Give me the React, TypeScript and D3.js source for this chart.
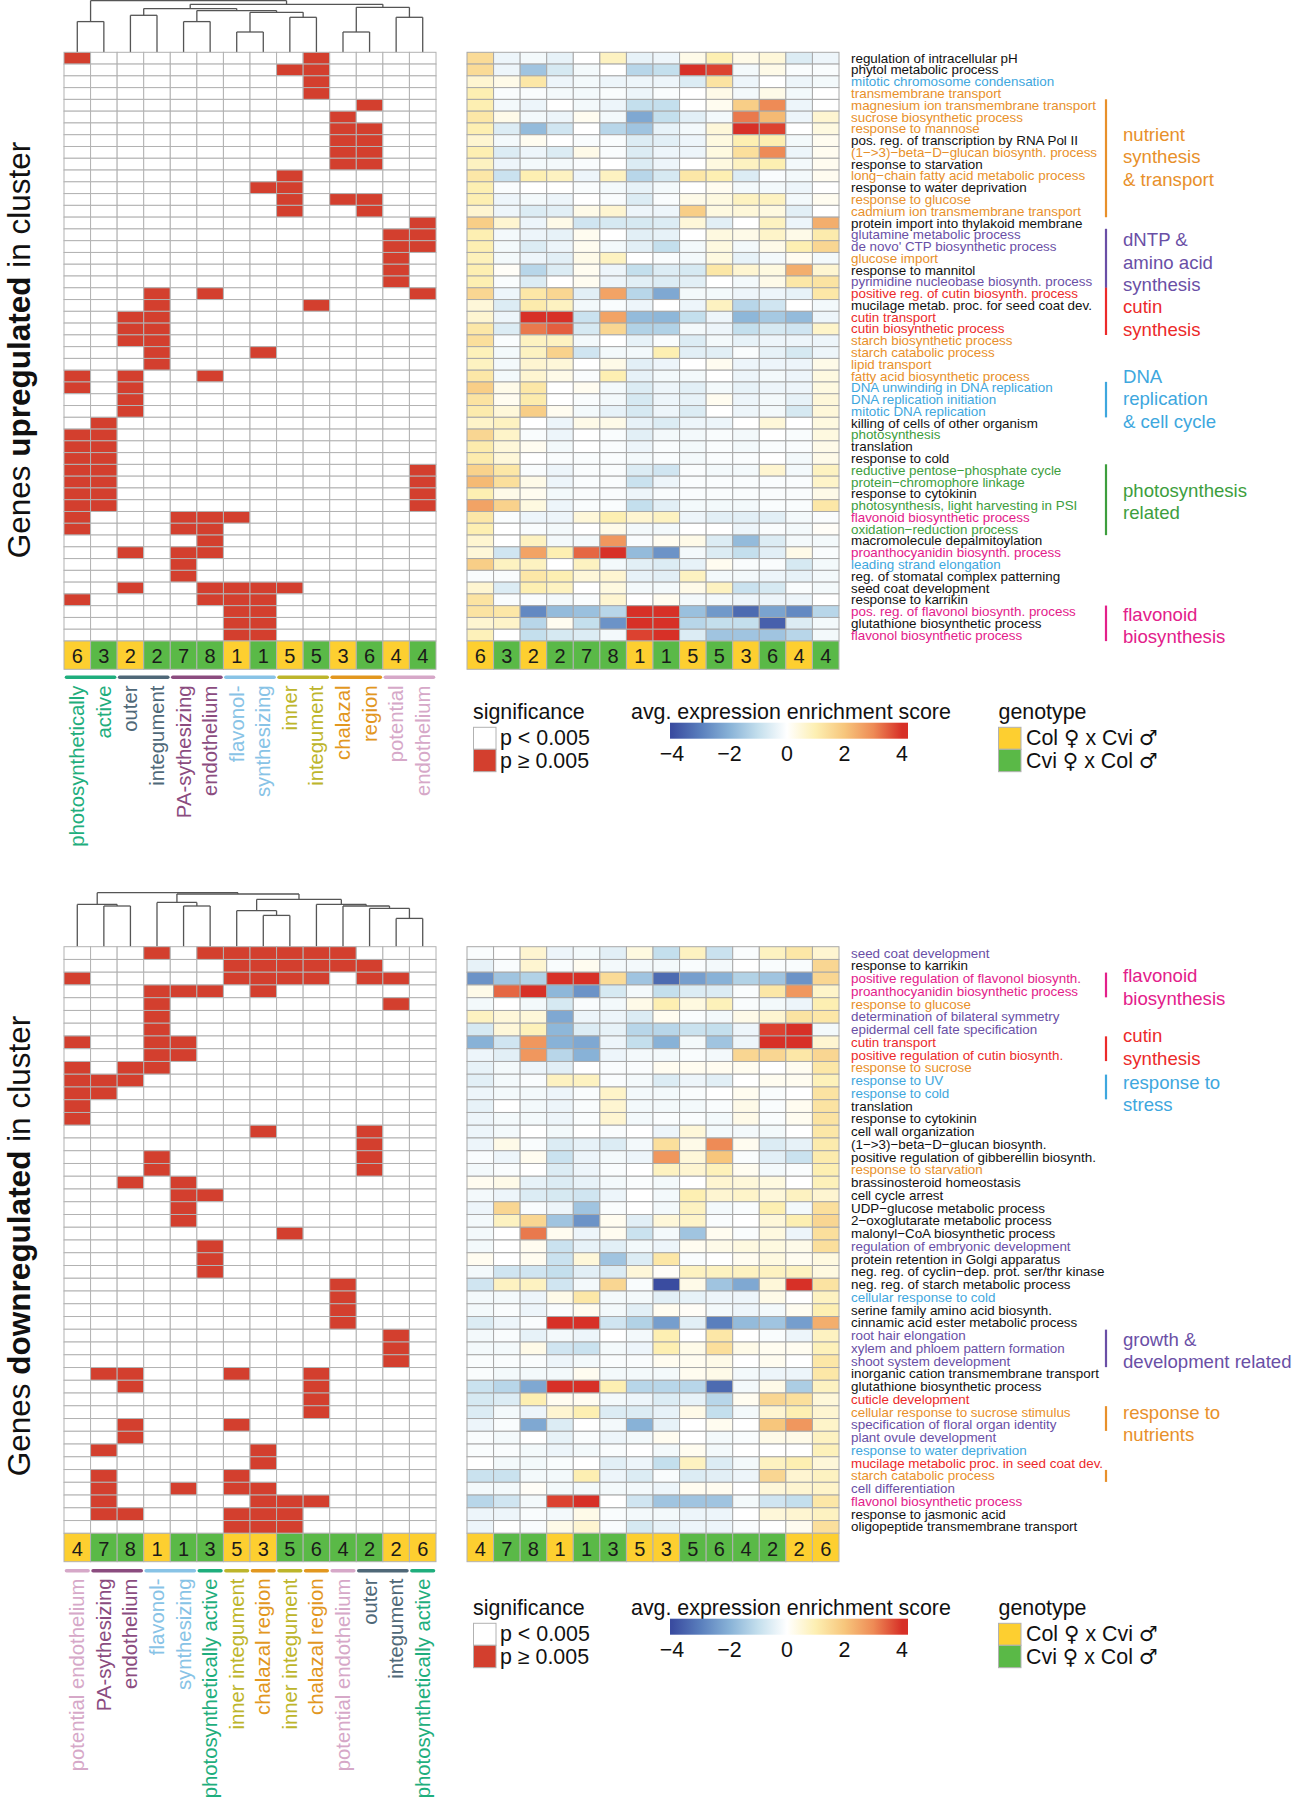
import React from "react";
import * as d3 from "d3";

const FONT = "'Liberation Sans', Arial, Helvetica, sans-serif";

// ---------------- DATA ----------------
const topTerms = [
  "regulation of intracellular pH", "phytol metabolic process", "mitotic chromosome condensation",
  "transmembrane transport", "magnesium ion transmembrane transport", "sucrose biosynthetic process",
  "response to mannose", "pos. reg. of transcription by RNA Pol II", "(1−>3)−beta−D−glucan biosynth. process",
  "response to starvation", "long−chain fatty acid metabolic process", "response to water deprivation",
  "response to glucose", "cadmium ion transmembrane transport", "protein import into thylakoid membrane",
  "glutamine metabolic process", "de novo' CTP biosynthetic process", "glucose import", "response to mannitol",
  "pyrimidine nucleobase biosynth. process", "positive reg. of cutin biosynth. process",
  "mucilage metab. proc. for seed coat dev.", "cutin transport", "cutin biosynthetic process",
  "starch biosynthetic process", "starch catabolic process", "lipid transport", "fatty acid biosynthetic process",
  "DNA unwinding in DNA replication", "DNA replication initiation", "mitotic DNA replication",
  "killing of cells of other organism", "photosynthesis", "translation", "response to cold",
  "reductive pentose−phosphate cycle", "protein−chromophore linkage", "response to cytokinin",
  "photosynthesis, light harvesting in PSI", "flavonoid biosynthetic process", "oxidation−reduction process",
  "macromolecule depalmitoylation", "proanthocyanidin biosynth. process", "leading strand elongation",
  "reg. of stomatal complex patterning", "seed coat development", "response to karrikin",
  "pos. reg. of flavonol biosynth. process", "glutathione biosynthetic process", "flavonol biosynthetic process",
];
const topTermColorKeys = "kkbooookokokookppokprkrroooobbbkgkkggkgmgkmbkkkmkm".split("");

const bottomTerms = [
  "seed coat development", "response to karrikin", "positive regulation of flavonol biosynth.",
  "proanthocyanidin biosynthetic process", "response to glucose", "determination of bilateral symmetry",
  "epidermal cell fate specification", "cutin transport", "positive regulation of cutin biosynth.",
  "response to sucrose", "response to UV", "response to cold", "translation", "response to cytokinin",
  "cell wall organization", "(1−>3)−beta−D−glucan biosynth.", "positive regulation of gibberellin biosynth.",
  "response to starvation", "brassinosteroid homeostasis", "cell cycle arrest", "UDP−glucose metabolic process",
  "2−oxoglutarate metabolic process", "malonyl−CoA biosynthetic process", "regulation of embryonic development",
  "protein retention in Golgi apparatus", "neg. reg. of cyclin−dep. prot. ser/thr kinase",
  "neg. reg. of starch metabolic process", "cellular response to cold", "serine family amino acid biosynth.",
  "cinnamic acid ester metabolic process", "root hair elongation", "xylem and phloem pattern formation",
  "shoot system development", "inorganic cation transmembrane transport", "glutathione biosynthetic process",
  "cuticle development", "cellular response to sucrose stimulus", "specification of floral organ identity",
  "plant ovule development", "response to water deprivation", "mucilage metabolic proc. in seed coat dev.",
  "starch catabolic process", "cell differentiation", "flavonol biosynthetic process",
  "response to jasmonic acid", "oligopeptide transmembrane transport",
];
const bottomTermColorKeys = "pkmmopprrobbkkkkkokkkkkpkkkbkkpppkkroppbropmkk".split("");

const topClusters = [6, 3, 2, 2, 7, 8, 1, 1, 5, 5, 3, 6, 4, 4];
const topGenotype = ["C", "V", "C", "V", "V", "V", "C", "V", "C", "V", "C", "V", "C", "V"];
const bottomClusters = [4, 7, 8, 1, 1, 3, 5, 3, 5, 6, 4, 2, 2, 6];
const bottomGenotype = ["C", "V", "V", "C", "V", "V", "C", "C", "V", "V", "V", "V", "C", "C"];

const topSig = [
  "10000000010000", "00000000110000", "00000000010000", "00000000010000", "00000000000100",
  "00000000001000", "00000000001100", "00000000001100", "00000000001100", "00000000001100",
  "00000000100000", "00000001100000", "00000000101100", "00000000100100", "00000000000001",
  "00000000000011", "00000000000011", "00000000000010", "00000000000010", "00000000000010",
  "00010100000001", "00010000010000", "00110000000000", "00110000000000", "00110000000000",
  "00010001000000", "00010000000000", "10100100000000", "10100000000000", "00100000000000",
  "00100000000000", "01000000000000", "11000000000000", "11000000000000", "11000000000000",
  "11000000000001", "11000000000001", "11000000000001", "11000000000001", "10001110000000",
  "10001100000000", "00000100000000", "00101100000000", "00001000000000", "00001000000000",
  "00100111100000", "10000111000000", "00000011000000", "00000011000000", "00000011000000",
];

const bottomSig = [
  "00010111111000", "00000011111100", "10000011110110", "00011101000000", "00010000000010",
  "00010000000000", "00010000000000", "10011000000000", "00011000000000", "10110000000000",
  "11100000000000", "11000000000000", "10000000000000", "10000000000000", "00000001000100",
  "00000000000100", "00010000000100", "00010000000100", "00101000000000", "00001100000000",
  "00001000000000", "00001000000000", "00000000100000", "00000100000000", "00000100000000",
  "00000100000000", "00000000001000", "00000000001000", "00000000001000", "00000000001000",
  "00000000000010", "00000000000010", "00000000000010", "01100010010000", "00100000010000",
  "00000000010000", "00000000010000", "00100010000000", "00100000000000", "01000001000000",
  "00000001000000", "01000010000000", "01001011000000", "01000001110000", "01100011100000",
  "00000011100000",
];

const topExpr = [
  [1.5, -0.3, -0.2, -0.4, 0, 0.8, -0.4, -0.3, 0.3, 1.0, 0.3, 0.5, -0.6, -0.3],
  [1.5, -0.3, -1.6, -0.7, -0.2, 0, -1.2, -1.0, 4, 3.8, -0.2, 0.3, -0.1, -0.1],
  [0.6, 0.3, 1.2, -0.3, -0.2, -0.3, -0.3, -0.3, -0.6, 1.3, -0.3, 0, -0.3, -0.2],
  [1.0, -0.1, -0.1, -0.2, -0.2, -0.1, -0.3, -0.1, 0, 0.3, -0.2, 0.3, -0.2, 0],
  [1.0, -0.2, -0.3, 0, -0.2, -0.3, -1.0, -1.0, 0, 0.2, 1.8, 3.0, -0.3, 0],
  [1.2, 0.3, -0.2, -0.3, 0.2, -0.2, -2.2, -1.0, -0.5, -0.2, 3.2, 2.2, -0.3, 0.6],
  [1.0, -0.6, -1.8, -0.8, 0, -1.2, -1.6, -0.4, -0.2, 0.5, 4, 3.8, 0, 0.4],
  [0.6, -0.2, 0.2, 0, -0.1, -0.1, -0.6, -0.5, -0.3, 0.4, 1.0, 1.0, -0.2, 0.2],
  [1.0, -0.6, -0.3, -0.6, 0.3, -0.1, -0.6, -0.3, -0.3, 0.4, 1.4, 3.0, -0.3, 0.2],
  [0.8, -0.3, -0.2, -0.2, -0.1, 0, -0.6, -0.3, 0, 0.4, 0.8, 1.0, -0.2, 0.2],
  [1.2, -0.9, 1.0, 0.8, -0.3, 0.8, -1.2, -0.7, 1.2, 1.0, -0.6, -0.1, -0.2, 0.2],
  [1.0, -0.1, 0, 0, -0.1, -0.2, -0.4, -0.2, 0, 0.2, -0.2, -0.2, -0.3, 0],
  [1.0, -0.3, -0.2, -0.3, 0, -0.1, -0.6, -0.1, 0.3, 0.4, 0.8, 0.8, -0.2, 0.2],
  [0.6, -0.3, -0.6, -0.5, 0.3, 0.6, -0.3, -0.3, 1.8, 0.4, 0.5, 0.4, -0.5, 0],
  [1.8, 0.6, -0.3, 0.3, -0.8, -0.7, -0.7, -0.6, 0.5, -0.5, 0, 0.8, -0.3, 2.4],
  [1.0, -0.2, -0.3, -0.4, 0.2, 0, -0.5, -0.4, 0, 0.4, 0.3, 0.7, 0.3, 1.1],
  [1.0, -0.2, -0.6, -0.3, 0.2, -0.2, -0.5, -1.0, -0.2, 0.4, -0.2, 0.3, 1.0, 1.6],
  [0.9, -0.2, -0.3, -0.5, 0.3, 0.8, 0, -0.1, -0.2, 0.4, -0.4, -0.2, 0.2, -0.2],
  [1.0, 0.1, -1.2, -0.6, 0.2, -0.3, -1.0, -0.6, -0.7, 1.2, 0.6, 0.4, 2.4, 0.6],
  [1.0, -0.1, -0.6, 0, 0.2, -0.3, -0.5, -0.6, -0.5, 0, -0.2, 0.3, 1.2, 1.3],
  [1.6, -0.3, 1.2, 1.6, -0.5, 2.6, -1.2, -2.2, -0.2, -0.2, -0.3, -0.3, -0.4, 1.2],
  [0.5, -0.6, 1.1, 0.8, -0.2, -0.1, -0.3, 0, -0.3, 0.8, -1.2, -0.8, 0, -0.2],
  [0.6, -0.3, 4, 4, -0.9, 2.6, -1.8, -1.9, -1.0, -0.3, -1.9, -1.5, -1.8, -0.3],
  [1.2, -0.6, 3.2, 3.5, -0.7, 1.6, -1.3, -1.3, -0.2, -0.3, -1.0, -0.7, -0.8, 0.7],
  [1.4, -0.1, 0.8, 0.8, -0.2, 0, -0.4, -0.1, -0.6, -0.2, -0.4, -0.3, -0.3, -0.3],
  [0.9, -0.2, 0.8, 1.7, -0.8, -0.2, -0.2, 1.0, -0.5, -0.5, -0.1, -0.4, -0.7, -0.3],
  [0.8, -0.2, 0.6, 0.5, 0, 0.3, -0.5, -0.3, 0, 0.2, -0.3, -0.3, -0.3, 0.3],
  [1.2, -0.2, 0.6, 0.3, -0.1, 1.0, -0.4, -0.2, -0.2, 0, -0.3, -0.2, -0.3, 0.4],
  [1.8, 0.3, 1.2, 0, 0.2, -0.2, -0.6, -0.3, -0.5, -0.2, -0.4, -0.3, -0.3, 0.4],
  [1.3, 0.2, 1.1, 0, -0.1, -0.2, -0.7, -0.3, -0.4, 0.2, -0.3, -0.2, -0.4, 0.5],
  [1.1, 0.5, 1.8, 0.2, -0.2, -0.4, -0.7, -0.3, -0.6, 0, -0.3, -0.2, -0.7, 0.5],
  [0.7, 0.8, 0, -0.3, 0.3, 0.3, -0.4, -0.6, -0.3, -0.3, 0, 0.5, 0, 0.4],
  [1.6, 0.7, -0.1, -0.3, 0, -0.1, -0.5, -0.2, -0.2, -0.1, -0.2, 0, -0.1, 0.4],
  [1.1, 0.5, 0.2, -0.2, 0, -0.1, -0.3, -0.1, -0.2, -0.1, -0.2, -0.1, -0.1, 0.3],
  [1.1, 0.5, 0, -0.1, -0.1, -0.1, -0.2, -0.1, -0.2, -0.1, -0.1, 0, -0.2, 0.3],
  [1.7, 1.2, -0.1, -0.3, -0.1, -0.1, -0.6, -0.8, -0.1, -0.2, -0.2, 0.6, -0.2, 0.8],
  [2.2, 1.4, 0.3, -0.3, -0.1, -0.1, -0.9, -0.3, -0.1, -0.1, -0.1, -0.1, -0.1, 0.7],
  [1.0, 0.3, 0.2, -0.2, -0.1, -0.1, -0.3, -0.1, -0.1, -0.1, -0.1, -0.1, -0.1, 0.3],
  [2.6, 1.7, 0.4, -0.3, -0.1, -0.1, -1.0, -0.5, -0.2, -0.2, -0.2, -0.1, -0.1, 1.2],
  [1.2, -0.1, -0.3, -0.3, 0.5, 1.0, 0.6, 0.8, -0.3, -0.5, -0.5, -0.5, -0.2, -0.1],
  [1.0, 0, -0.1, -0.2, 0, 0.3, -0.2, -0.2, 0, 0, -0.3, -0.1, -0.2, 0.1],
  [0.6, 0, 0.8, -0.2, -0.2, 2.8, -0.1, 0.2, 0.3, -0.6, -1.8, -0.6, -0.2, -0.2],
  [0.5, -0.8, 2.6, 1.0, 3.4, 4, -1.8, -2.6, -0.2, -0.6, -1.0, -0.5, 0.3, -0.1],
  [1.8, 0.8, 0.8, 0, 0.8, -0.2, -0.5, -0.6, -0.4, 0.2, -0.1, -0.1, -0.7, -0.2],
  [-0.1, -0.1, 1.2, 1.0, 0.5, 0.6, -0.4, -0.5, 0.8, -0.2, -0.2, -0.3, -0.4, -0.2],
  [0.6, -0.6, 1.0, 0.8, 0, 0.4, -0.2, -0.2, 0.3, 0.8, -0.9, -0.7, -0.1, -0.2],
  [1.3, -0.1, -0.1, -0.2, -0.1, 0.6, 0, 0.2, -0.2, -0.2, -0.3, -0.3, -0.3, 0],
  [1.3, 1.2, -2.8, -1.8, -1.7, -1.2, 4, 4, -1.7, -2.5, -3.4, -2.3, -2.8, -1.2],
  [0.6, 0.7, -1.2, 0.2, -1.0, -2.6, 4, 4, -1.2, -1.0, -1.0, -3.6, -0.6, -0.2],
  [0.9, 0, -1.0, -0.7, -0.6, -0.2, 3.8, 4, -0.6, -1.6, -1.6, -1.6, -1.2, -0.2],
];

const bottomExpr = [
  [-0.1, 0, 0.6, -0.3, -0.2, -0.5, 0.4, -1.0, 0.8, -0.9, -0.1, 0.8, 1.2, 0.6],
  [-0.4, -0.1, 0.6, -0.1, 0.2, -0.2, -0.2, -0.2, -0.1, -0.2, 0, -0.1, -0.1, 1.6],
  [-2.6, -1.6, -1.3, 4, 4, 1.5, -1.6, -3.4, -2.4, -2.0, -1.3, -1.6, -2.6, 1.6],
  [0.3, 3.4, 4, -1.9, -2.6, -0.7, -0.2, -1.0, -0.6, -0.6, -0.1, 1.2, 2.8, 0.7],
  [-0.2, 0, -0.2, -0.7, -0.1, -0.2, 0.3, 1.0, 0.4, 0.9, -0.1, -0.2, -0.3, 1.0],
  [0.8, 0.5, 0.5, -2.2, -0.3, -0.3, -0.6, 0.2, -0.1, -0.2, 0.3, 0.6, 1.3, 1.2],
  [-0.7, 0.5, 0.9, -1.9, -0.6, -0.4, -1.2, -1.2, -0.9, -1.0, -0.3, 3.8, 4, -0.2],
  [-2.0, -0.8, 2.8, -2.0, -2.2, -0.3, -1.0, -2.0, -0.2, -1.6, -0.3, 4, 4, 0.6],
  [-0.3, -0.5, 2.8, -1.2, -2.0, -0.3, -0.2, -0.2, -0.1, -0.2, 1.6, 1.6, 1.2, 1.6],
  [-0.4, -0.2, -0.3, -0.5, 0, -0.1, -0.1, 0.2, 0.2, 0.2, 0.2, 0, 0.2, 1.2],
  [-0.5, -0.2, -0.1, 0.8, 0.8, -0.1, -0.2, -0.6, -0.3, -0.5, 0, 0.2, 0.2, 0.9],
  [-0.3, -0.2, -0.2, -0.3, -0.1, 0.7, -0.2, -0.2, -0.1, 0, 0.2, -0.1, 0, 1.3],
  [-0.4, 0, -0.2, -0.3, -0.1, 0.6, -0.2, -0.2, -0.2, -0.1, 0.3, -0.1, 0.2, 1.3],
  [-0.3, -0.2, -0.2, -0.3, -0.1, 0.6, -0.2, -0.1, -0.1, -0.2, 0.3, -0.1, 0.2, 1.3],
  [-0.3, -0.2, 0, -0.2, 0, -0.1, 0, -0.3, 0.5, -0.2, -0.2, -0.2, 0, 1.2],
  [-0.3, 0.3, -0.1, -0.6, -0.4, -0.6, -0.2, 1.4, 0.3, 3.0, 0.2, -0.6, -0.4, 1.1],
  [-0.1, -0.3, 0.2, -0.9, -0.3, -0.2, -0.3, 2.8, 0.5, 2.0, -0.1, -0.5, -0.9, 1.1],
  [-0.2, -0.1, 0, -0.6, -0.3, -0.1, 0, 0.8, 0.6, 0.9, 0.2, -0.2, -0.1, 1.0],
  [0.2, 0.3, -0.4, -0.6, -0.4, -0.2, -0.1, -0.2, 0, 0.6, 0.5, 0.4, 0, 0.9],
  [-0.2, -0.3, -0.6, -0.7, -0.8, -0.3, 0, -0.2, 1.0, 0.6, 0.7, 0.5, 0.8, 0.6],
  [-0.3, 1.6, -0.1, -0.3, -1.6, -0.1, 0, -0.2, 0.8, -0.2, -0.1, 1.0, -0.2, 1.4],
  [-0.2, 0.8, 1.6, -1.6, -2.6, 0.2, -0.5, 0.5, 0.7, -0.1, 0, 0.5, 1.0, 1.6],
  [-0.2, 0, 3.2, 0.2, -0.3, 0.2, -0.9, -0.2, -1.6, 0.2, -0.1, 0.4, -0.3, 1.4],
  [-0.2, 0, 0.2, -0.9, -0.4, -0.5, -0.2, -0.3, 0.2, 0.3, 0.4, 0.4, 0.3, 1.4],
  [0.2, 0, 0.2, -0.9, 0.5, -1.6, -0.6, 1.2, -0.1, 0, 0.2, 0.4, 0.2, 0.4],
  [-0.2, -0.8, -0.8, -1.0, -0.5, -0.6, 0.5, 0.1, 0.8, 0.8, 0.8, 0.8, 0.8, 0.4],
  [-0.8, 0.8, 0.8, -0.8, -0.2, 1.6, -0.1, -4, 0.3, -1.6, -2.2, 0.5, 4, 1.3],
  [-0.2, -0.2, -0.3, 0.3, 1.2, -0.2, -0.2, -0.5, -0.4, -0.3, -0.3, 0.3, 0, 0.8],
  [-0.2, -0.1, -0.3, -0.1, 0.2, -0.2, -0.5, 0.2, 0.1, -0.2, -0.3, -0.2, 0.2, 1.0],
  [-0.6, -0.3, -0.1, 4, 4, -0.8, -1.3, -2.4, -0.5, -3.0, -1.8, -1.6, -2.4, 2.4],
  [-0.2, -0.1, -0.4, -0.2, -0.3, 0, -0.2, 1.0, 0, 1.2, 0, -0.1, -0.3, 0.8],
  [-0.2, -0.2, 0.3, -0.8, -0.9, -0.2, -0.3, 1.0, 0.3, 1.4, 0.3, 0.2, 0.2, 0.9],
  [-0.1, -0.1, -0.1, -0.3, -0.2, -0.1, -0.1, 0.2, 0.2, 0.3, 0, 0.2, 0, 1.2],
  [-0.1, -0.2, -0.2, -0.2, 0.2, -0.2, -0.2, -0.2, 0.2, 0.3, -0.2, -0.3, -0.3, 1.2],
  [-0.9, -1.2, -2.2, 4, 4, 1.0, -1.2, -1.2, -1.2, -3.4, -0.2, 0.3, -1.4, 0.8],
  [-0.7, -0.6, 1.0, 0.2, 0.2, -0.2, -0.3, -0.6, -0.4, -1.2, 0.2, 1.6, 1.4, 0.5],
  [-0.6, -0.2, -0.3, 0.6, 1.0, -0.6, -0.6, -0.4, 0.3, -1.0, -0.2, 0.6, 1.0, 0.6],
  [-0.3, -0.1, -2.2, -0.6, 0, -0.2, -2.0, -0.4, 0, 0.2, 0, 2.0, 2.8, 0.7],
  [-0.1, -0.2, 0, -0.4, -0.1, -0.3, -0.2, 0.2, 0, -0.2, -0.1, 0.3, 0.3, 0.8],
  [-0.1, -0.1, -0.2, -0.3, -0.2, -0.1, 0, -0.2, 0.2, -0.2, 0, 0, 0, 0.9],
  [0, -0.2, -0.2, -0.1, 0, -0.5, -0.3, -1.0, 0.8, -0.6, -0.2, 0.8, 1.0, 0.5],
  [-0.9, -0.9, -0.2, -0.2, 1.0, -0.3, -0.6, -0.1, -0.6, -0.5, -0.3, 1.6, 0.6, 0.8],
  [-0.2, -0.2, 0.1, -0.2, -0.2, -0.2, -0.2, -0.3, 0.2, 0.2, 0, 0.5, 0.6, 0.7],
  [-1.2, -0.8, -0.2, 3.8, 4, 0, -0.8, -1.6, -1.6, -1.6, -0.2, -0.8, -1.0, 1.2],
  [-0.3, -0.3, -0.1, -0.2, 0.3, -0.1, -0.2, -0.2, -0.3, -0.3, 0, 0.5, 0.6, 0.8],
  [-0.3, 0, -0.1, 0.3, 0.6, -0.1, -0.7, -0.4, -0.3, -0.3, -0.1, 0, 0.2, 1.4],
];

type Tree = number | [Tree, Tree, number];
const topTree: Tree = [
  [0, 1, 30.7],
  [
    [[2, 3, 37], [[4, 5, 30.7], [[6, 7, 20.3], [8, 9, 35], 40], 41.7], 43.7],
    [[10, 11, 20.3], [12, 13, 35], 45],
    48,
  ],
  51.7,
];
const bottomTree: Tree = [
  [0, [1, 2, 40.7], 42.3],
  [
    [3, [4, 5, 40.7], 44.3],
    [[6, [7, 8, 31.3], 36], [9, [10, [11, [12, 13, 28.3], 38.3], 40.7], 42.3], 47.3],
    52.7,
  ],
  54,
];

const topClusterLabels = [
  { lines: ["photosynthetically", "active"], cols: [0, 1], key: "photo" },
  { lines: ["outer", "integument"], cols: [2, 3], key: "outer" },
  { lines: ["PA-sythesizing", "endothelium"], cols: [4, 5], key: "pa" },
  { lines: ["flavonol-", "synthesizing"], cols: [6, 7], key: "flav" },
  { lines: ["inner", "integument"], cols: [8, 9], key: "inner" },
  { lines: ["chalazal", "region"], cols: [10, 11], key: "chal" },
  { lines: ["potential", "endothelium"], cols: [12, 13], key: "pot" },
];
const bottomClusterLabels = [
  { lines: ["potential endothelium"], cols: [0], key: "pot" },
  { lines: ["PA-sythesizing", "endothelium"], cols: [1, 2], key: "pa" },
  { lines: ["flavonol-", "synthesizing"], cols: [3, 4], key: "flav" },
  { lines: ["photosynthetically active"], cols: [5], key: "photo" },
  { lines: ["inner integument"], cols: [6], key: "inner" },
  { lines: ["chalazal region"], cols: [7], key: "chal" },
  { lines: ["inner integument"], cols: [8], key: "inner" },
  { lines: ["chalazal region"], cols: [9], key: "chal" },
  { lines: ["potential endothelium"], cols: [10], key: "pot" },
  { lines: ["outer", "integument"], cols: [11, 12], key: "outer" },
  { lines: ["photosynthetically active"], cols: [13], key: "photo" },
];

const topAnnotations = [
  { rows: [4, 13], key: "o", lines: ["nutrient", "synthesis", "& transport"] },
  { rows: [15, 19], key: "p", lines: ["dNTP &", "amino acid", "synthesis"] },
  { rows: [20, 23], key: "r", lines: ["cutin", "synthesis"] },
  { rows: [28, 30], key: "b", lines: ["DNA", "replication", "& cell cycle"] },
  { rows: [35, 40], key: "g", lines: ["photosynthesis", "related"] },
  { rows: [47, 49], key: "m", lines: ["flavonoid", "biosynthesis"] },
];
const topAnnotationShift = [-3.6, 1.8, 4.5, -3, 0, 0];
const bottomAnnotations = [
  { rows: [2, 3], key: "m", lines: ["flavonoid", "biosynthesis"] },
  { rows: [7, 8], key: "r", lines: ["cutin", "synthesis"] },
  { rows: [10, 11], key: "b", lines: ["response to", "stress"] },
  { rows: [30, 32], key: "p", lines: ["growth &", "development related"] },
  { rows: [36, 37], key: "o", lines: ["response to", "nutrients"] },
  { rows: [41, 41], key: "o", lines: [] as string[] },
];
const bottomAnnotationShift = [0, -3.5, 4.5, 0, 3, 0];

const colorTicks = [-4, -2, 0, 2, 4];
const colorStops = [-4, -3, -2, -1, 0, 1, 2, 3, 4];
const colorStopValues = ["#3a4ca0", "#5a7fbd", "#88b2d7", "#c4dfed", "#ffffff", "#fdefb2", "#f7c67c", "#ee8b56", "#d73027"];

// ---------------- STYLE ----------------
const TEXT_COLORS: Record<string, string> = {
  k: "#111111", o: "#e8902a", b: "#3ea7de", p: "#6a4fa6", r: "#ec2a2a", g: "#3d9e3d", m: "#e3208a",
};
const CLUSTER_COLORS: Record<string, string> = {
  photo: "#1fae7d", outer: "#4f6878", pa: "#8b4c7f", flav: "#88c3e6", inner: "#bdb52b", chal: "#e2971f", pot: "#d6a8c8",
};
const GENO_COLORS: Record<string, string> = { C: "#fdcf30", V: "#5ab947" };
const SIG_RED = "#d33f2e";
const GRID = "#b2b2b2";
const SYM_FONT = "'DejaVu Sans', 'Noto Sans', sans-serif";

const sigX = d3.scaleBand<number>().domain(d3.range(14)).range([64, 436]);
const exprX = d3.scaleBand<number>().domain(d3.range(14)).range([467, 839]);
const exprColor = d3.scaleLinear<string>().domain(colorStops).range(colorStopValues).clamp(true);
const legendX = d3.scaleLinear().domain([-4, 4]).range([672, 902]);
const CB_X0 = 670, CB_X1 = 908;

const LAYOUT_TOP = { gridTop: 52.3, gridBottom: 641, barBottom: 669.3, underlineY: 677.3, labelY: 685.5, legendY: 711.7, titleY: 350 };
const LAYOUT_BOTTOM = { gridTop: 946.7, gridBottom: 1533.3, barBottom: 1561.7, underlineY: 1570.8, labelY: 1578.5, legendY: 1607.7, titleY: 1246 };

function dendroSegments(tree: Tree, leafY: number) {
  const hs = d3.scaleLinear().domain([0, 1]).range([leafY, leafY - 1]);
  const segs: { x1: number; y1: number; x2: number; y2: number }[] = [];
  const rec = (t: Tree): { x: number; y: number } => {
    if (typeof t === "number") return { x: (sigX(t) as number) + sigX.bandwidth() / 2, y: leafY };
    const a = rec(t[0]);
    const b = rec(t[1]);
    const y = hs(t[2]);
    segs.push({ x1: a.x, y1: a.y, x2: a.x, y2: y });
    segs.push({ x1: b.x, y1: b.y, x2: b.x, y2: y });
    segs.push({ x1: a.x, y1: y, x2: b.x, y2: y });
    return { x: (a.x + b.x) / 2, y };
  };
  rec(tree);
  return segs;
}

function GenoText({ a, b, x, y }: { a: string; b: string; x: number; y: number }) {
  return (
    <text x={x} y={y} fontSize={21.4} dominantBaseline="central">
      {a + " "}
      <tspan fontFamily={SYM_FONT} fontSize={21}>♀</tspan>
      {" x " + b + " "}
      <tspan fontFamily={SYM_FONT} fontSize={21}>♂</tspan>
    </text>
  );
}

function Legend({ y }: { y: number }) {
  return (
    <g fontFamily={FONT} fill="#111">
      <text x={473} y={y} fontSize={21.4} dominantBaseline="central">significance</text>
      <rect x={473.5} y={y + 15.6} width={22.5} height={22} fill="#fff" stroke={GRID} />
      <rect x={473.5} y={y + 37.6} width={22.5} height={22.4} fill={SIG_RED} stroke={GRID} />
      <text x={500} y={y + 26.6} fontSize={21.4} dominantBaseline="central">p &lt; 0.005</text>
      <text x={500} y={y + 49.3} fontSize={21.4} dominantBaseline="central">p ≥ 0.005</text>

      <text x={631} y={y} fontSize={21.4} dominantBaseline="central">avg. expression enrichment score</text>
      <rect x={CB_X0} y={y + 11} width={CB_X1 - CB_X0} height={16} fill="url(#cbgrad)" />
      {colorTicks.map((t) => (
        <text key={t} x={legendX(t)} y={y + 42.5} fontSize={21.4} textAnchor="middle" dominantBaseline="central">
          {t < 0 ? "−" + Math.abs(t) : String(t)}
        </text>
      ))}

      <text x={998.5} y={y} fontSize={21.4} dominantBaseline="central">genotype</text>
      <rect x={998.5} y={y + 15.6} width={22.5} height={22} fill={GENO_COLORS.C} stroke={GRID} />
      <rect x={998.5} y={y + 37.6} width={22.5} height={22.4} fill={GENO_COLORS.V} stroke={GRID} />
      <GenoText a="Col" b="Cvi" x={1026} y={y + 26.6} />
      <GenoText a="Cvi" b="Col" x={1026} y={y + 49.3} />
    </g>
  );
}

function Panel(props: {
  terms: string[]; termColors: string[]; sig: string[]; expr: number[][];
  clusters: number[]; geno: string[]; tree: Tree;
  clusterLabels: { lines: string[]; cols: number[]; key: string }[];
  annotations: { rows: number[]; key: string; lines: string[] }[];
  annotationShift: number[];
  layout: typeof LAYOUT_TOP; word: string;
}) {
  const { terms, termColors, sig, expr, clusters, geno, tree, clusterLabels, annotations, annotationShift, layout, word } = props;
  const rowY = d3.scaleBand<number>().domain(d3.range(terms.length)).range([layout.gridTop, layout.gridBottom]);
  const rh = rowY.bandwidth();
  const cw = sigX.bandwidth();
  const segs = dendroSegments(tree, layout.gridTop);
  const barH = layout.barBottom - layout.gridBottom;
  const rc = (r: number) => (rowY(r) as number) + rh / 2;

  return (
    <g>
      {/* y title */}
      <text transform={`translate(29.5,${layout.titleY}) rotate(-90)`} textAnchor="middle" fontFamily={FONT} fontSize={31.5} fill="#111">
        {"Genes "}<tspan fontWeight="bold">{word}</tspan>{" in cluster"}
      </text>

      {/* dendrogram */}
      <g stroke="#555" strokeWidth={1.3} fill="none">
        {segs.map((s, i) => <line key={i} x1={s.x1} y1={s.y1} x2={s.x2} y2={s.y2} />)}
      </g>

      {/* significance */}
      <g>
        {sig.map((row, r) => row.split("").map((ch, c) => (
          <rect key={`s${r}-${c}`} x={sigX(c)} y={rowY(r)} width={cw} height={rh}
            fill={ch === "1" ? SIG_RED : "#ffffff"} stroke={GRID} strokeWidth={1} />
        )))}
      </g>

      {/* expression */}
      <g>
        {expr.map((row, r) => row.map((v, c) => (
          <rect key={`e${r}-${c}`} x={exprX(c)} y={rowY(r)} width={exprX.bandwidth()} height={rh}
            fill={exprColor(v)} stroke="#a8a8a8" strokeWidth={1} />
        )))}
      </g>

      {/* genotype / cluster bars */}
      {[sigX, exprX].map((xs, k) => (
        <g key={k}>
          {clusters.map((cl, c) => (
            <g key={c}>
              <rect x={xs(c)} y={layout.gridBottom} width={xs.bandwidth()} height={barH}
                fill={GENO_COLORS[geno[c]]} stroke={GRID} strokeWidth={1} />
              <text x={(xs(c) as number) + xs.bandwidth() / 2} y={layout.gridBottom + barH / 2 + 1}
                textAnchor="middle" dominantBaseline="central" fontFamily={FONT} fontSize={20} fill="#1a1a1a">{cl}</text>
            </g>
          ))}
        </g>
      ))}

      {/* term labels */}
      <g fontFamily={FONT} fontSize={13.4}>
        {terms.map((t, r) => (
          <text key={r} x={851} y={rc(r)} dominantBaseline="central" fill={TEXT_COLORS[termColors[r]]}>{t}</text>
        ))}
      </g>

      {/* annotation bars */}
      {annotations.map((a, i) => {
        const y0 = rc(a.rows[0]) - 6;
        const y1 = rc(a.rows[1]) + 6;
        const mid = (y0 + y1) / 2 + 2 + annotationShift[i];
        const lh = 22.5;
        return (
          <g key={i}>
            <line x1={1106} x2={1106} y1={y0} y2={y1} stroke={TEXT_COLORS[a.key]} strokeWidth={2.2} />
            {a.lines.map((l, j) => (
              <text key={j} x={1123} y={mid + (j - (a.lines.length - 1) / 2) * lh} dominantBaseline="central"
                fontFamily={FONT} fontSize={18.6} fill={TEXT_COLORS[a.key]}>{l}</text>
            ))}
          </g>
        );
      })}

      {/* cluster labels */}
      {clusterLabels.map((g, i) => {
        const xa = (sigX(g.cols[0]) as number) + 2.5;
        const xb = (sigX(g.cols[g.cols.length - 1]) as number) + cw - 2.5;
        const col = CLUSTER_COLORS[g.key];
        return (
          <g key={i}>
            <line x1={xa} x2={xb} y1={layout.underlineY} y2={layout.underlineY} stroke={col} strokeWidth={3.6} strokeLinecap="round" />
            {g.lines.map((l, j) => {
              const cx = g.lines.length === g.cols.length
                ? (sigX(g.cols[j]) as number) + cw / 2
                : (xa + xb) / 2;
              return (
                <text key={j} transform={`translate(${cx},${layout.labelY}) rotate(-90)`} textAnchor="end"
                  dominantBaseline="central" fontFamily={FONT} fontSize={20.3} fill={col}>{l}</text>
              );
            })}
          </g>
        );
      })}

      <Legend y={layout.legendY} />
    </g>
  );
}

export default function App() {
  const gradStops = colorStops.map((v, i) => ({
    offset: (legendX(v) - CB_X0) / (CB_X1 - CB_X0),
    color: colorStopValues[i],
  }));
  return (
    <svg width={1292} height={1800} style={{ position: "absolute", left: 0, top: 0, background: "#fff" }}>
      <defs>
        <linearGradient id="cbgrad" x1="0" x2="1" y1="0" y2="0">
          {gradStops.map((s, i) => <stop key={i} offset={s.offset} stopColor={s.color} />)}
        </linearGradient>
      </defs>
      <rect width={1292} height={1800} fill="#fff" />
      <Panel terms={topTerms} termColors={topTermColorKeys} sig={topSig} expr={topExpr}
        clusters={topClusters} geno={topGenotype} tree={topTree} clusterLabels={topClusterLabels}
        annotations={topAnnotations} annotationShift={topAnnotationShift} layout={LAYOUT_TOP} word="upregulated" />
      <Panel terms={bottomTerms} termColors={bottomTermColorKeys} sig={bottomSig} expr={bottomExpr}
        clusters={bottomClusters} geno={bottomGenotype} tree={bottomTree} clusterLabels={bottomClusterLabels}
        annotations={bottomAnnotations} annotationShift={bottomAnnotationShift} layout={LAYOUT_BOTTOM} word="downregulated" />
    </svg>
  );
}
